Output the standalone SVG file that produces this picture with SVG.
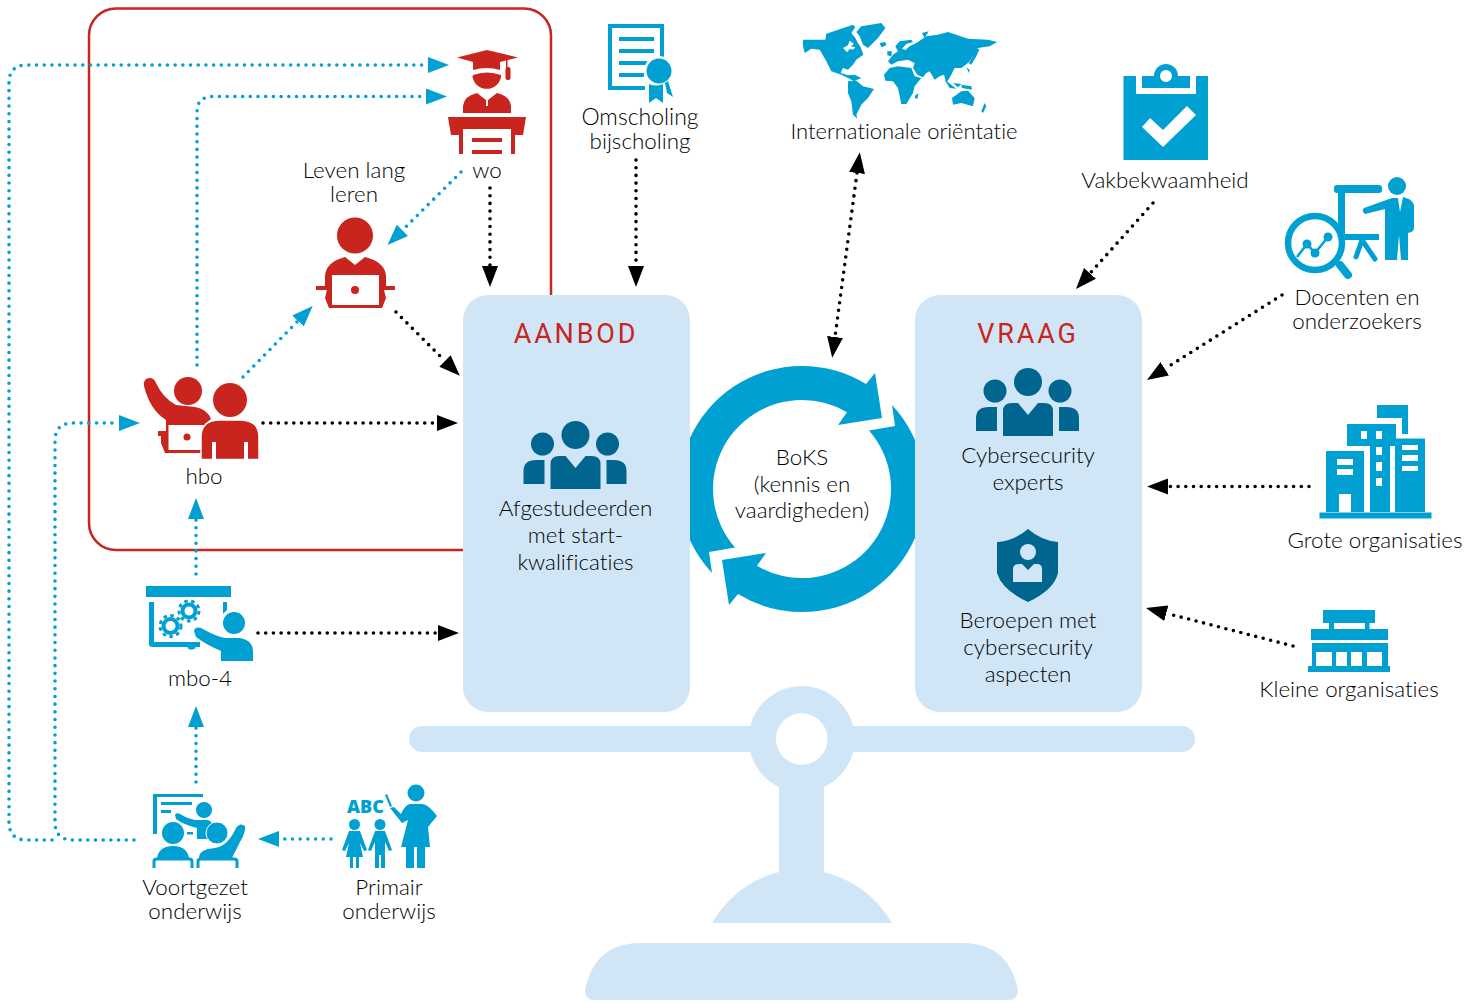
<svg xmlns="http://www.w3.org/2000/svg" width="1471" height="1005" viewBox="0 0 1471 1005">
<style>
.b{fill:#00A0D3}.r{fill:#C9241D}.d{fill:#00658F}.p{fill:#D0E6F7}.w{fill:#fff}
text{font-family:"Lato","Open Sans",sans-serif;font-weight:300;font-size:22.400px;fill:#000;text-anchor:middle;font-variant-ligatures:none}
.h{font-family:"Roboto",sans-serif;font-weight:400;font-size:27px;letter-spacing:2.800px;fill:#C9241D}
.dk{fill:none;stroke:#000;stroke-width:3.600;stroke-linecap:round;stroke-dasharray:0 7.700}
.bl{fill:none;stroke:#00A0D3;stroke-width:3.600;stroke-linecap:round;stroke-dasharray:0 7.700}
.me{marker-end:url(#ab)}.mk{marker-end:url(#ak)}
</style>
<defs>
<marker id="ab" markerUnits="userSpaceOnUse" markerWidth="22" markerHeight="17" refX="0" refY="8" orient="auto-start-reverse"><path d="M0,0L21,8L0,16z" fill="#00A0D3"/></marker>
<marker id="ak" markerUnits="userSpaceOnUse" markerWidth="22" markerHeight="17" refX="0" refY="8" orient="auto-start-reverse"><path d="M0,0L21,8L0,16z" fill="#000"/></marker>
<g id="people">
<circle class="d" cx="1028" cy="382" r="14"/><circle class="d" cx="995" cy="391" r="11.500"/><circle class="d" cx="1060" cy="391" r="11.500"/>
<path class="d" d="M1003,436V411Q1003,403 1012,403H1018L1028,415L1038,403H1044Q1053,403 1053,411V436z"/>
<path class="d" d="M976,431V418Q976,407 989,407H997V431z"/><path class="d" d="M1079,431V418Q1079,407 1066,407H1059V431z"/>
</g>
</defs>
<rect width="1471" height="1005" fill="#fff"/>
<rect id="frame" x="89" y="8.500" width="462" height="541.500" rx="27" fill="none" stroke="#C9241D" stroke-width="2.500"/>

<g id="scale" class="p">
<path fill-rule="evenodd" d="M422,726H750.300A53,53 0 0 1 853.100,726H1182A13,13 0 0 1 1182,752H853.100A53,53 0 0 1 824,787V872Q868,883 892,923H712Q736,883 779,872V787A53,53 0 0 1 750.300,752H422A13,13 0 0 1 422,726zM827.500,739A25.800,25.800 0 1 0 775.900,739A25.800,25.800 0 1 0 827.500,739z"/>
<path d="M640,943H963Q1008,943 1018,990Q1018,1000 1008,1000H595Q585,1000 585,990Q595,943 640,943z"/>
</g>

<g id="boks">
<path class="b" d="M712,573A123,123 0 0 1 802,366A123,123 0 0 1 866,384L875,373L882,418L838,425L847,412.200A89,89 0 0 0 802,400A89,89 0 0 0 735,547.600L709,552z"/>
<path class="b" d="M892,405A123,123 0 0 1 802,612A123,123 0 0 1 738,594L729,605L722,560L766,553L757,565.800A89,89 0 0 0 802,578A89,89 0 0 0 869,430.400L895,426z"/>
<text x="802" y="465">BoKS</text><text x="802" y="492">(kennis en</text><text x="802" y="518">vaardigheden)</text>
</g>

<g id="aanbod">
<rect class="p" x="463" y="295" width="227" height="417" rx="25"/>
<text class="h" x="576" y="343">AANBOD</text>
<use href="#people" x="-452.500" y="53"/>
<text x="575.500" y="516">Afgestudeerden</text><text x="575.500" y="543">met start-</text><text x="575.500" y="570">kwalificaties</text>
</g>

<g id="vraag">
<rect class="p" x="915" y="295" width="227" height="417" rx="25"/>
<text class="h" x="1028" y="343">VRAAG</text>
<use href="#people"/>
<text x="1028" y="463">Cybersecurity</text><text x="1028" y="490">experts</text>
<path class="d" d="M1028,529Q1042,541 1058,542V573Q1054,590 1028,602Q1002,590 997,573V542Q1014,541 1028,529z"/>
<circle class="p" cx="1028" cy="552" r="8"/>
<path class="p" d="M1013,582V569Q1013,564 1019,564H1022L1028,570L1034,564H1037Q1042,564 1042,569V582z"/>
<text x="1028" y="628">Beroepen met</text><text x="1028" y="655">cybersecurity</text><text x="1028" y="682">aspecten</text>
</g>

<g id="connectors">
<path class="bl me" d="M52,840H27Q9,840 9,822V83Q9,65 27,65H428"/>
<path class="bl me" d="M197,365V112Q197,96.500 213,96.500H426"/>
<path class="bl me" d="M134,840H73Q55,840 55,822V441Q55,423 73,423H119"/>
<path class="bl me" d="M461,172L402.400,230.300"/>
<path class="bl me" d="M243,377L298,321"/>
<path class="bl me" d="M196,574V519"/>
<path class="bl me" d="M196,782V727"/>
<path class="bl me" d="M331,839H279"/>
<path class="dk mk" d="M490,188V266"/>
<path class="dk mk" d="M396,312L445,361"/>
<path class="dk mk" d="M263,423H437"/>
<path class="dk mk" d="M258,633H438"/>
<path class="dk mk" d="M636,160V266"/>
<path class="dk" style="marker-start:url(#ak);marker-end:url(#ak)" d="M857,173L835,337"/>
<path class="dk mk" d="M1153,203L1090,273.400"/>
<path class="dk mk" d="M1282,295L1164.800,368.800"/>
<path class="dk mk" d="M1309,486.500H1168"/>
<path class="dk mk" d="M1293,646L1166.300,613.300"/>
</g>

<g id="wo">
<path class="r" d="M457,57.500L487,50L518,57.500L500,62V70Q487,66 473,70V62z"/>
<rect class="r" x="506" y="60" width="1.500" height="8"/><rect class="r" x="505.500" y="67" width="5" height="13" rx="2"/>
<path class="r" d="M473,75Q487,70 501,75V77A14.500,14.500 0 0 1 472.500,77z"/>
<path class="r" d="M463,113V106Q464,96 477,93L486,100V106H488V100L497,93Q510,96 511,106V113z"/>
<path class="r" d="M448,117H526L523,135H515V154H511V129H463V154H459V135H451z"/>
<rect class="r" x="472" y="138" width="30" height="4"/><rect class="r" x="472" y="150" width="30" height="4"/>
<text x="487" y="178">wo</text>
</g>

<g id="lll">
<text x="354" y="178">Leven lang</text><text x="354" y="202">leren</text>
<circle class="r" cx="355" cy="235.500" r="18"/>
<path class="r" d="M325,286V276Q326,262 345,257L355,265L365,257Q385,262 386,276V286H395V290H384L386,298L382,308H329L325,298L327,290H316V286z"/>
<rect class="w" x="332" y="275" width="47" height="30"/>
<circle class="r" cx="355" cy="290" r="4"/>
</g>

<g id="hbo">
<circle class="r" cx="188" cy="391" r="14"/>
<path class="r" d="M144,386Q143,378 150,378Q154,378 156,383Q163,398 176,405L195,407Q207,409 211,419L205,424H166V420Q150,410 144,386z"/>
<path class="r" d="M166,423H205V453H165L161,443V436H158V431H166z"/>
<rect class="w" x="168.500" y="425" width="36" height="25"/>
<circle class="r" cx="187" cy="437" r="3.500"/>
<circle class="r" cx="230" cy="400" r="17"/>
<path class="r" stroke="#fff" stroke-width="1.500" d="M201,459.500V437Q201,420 220,420H240Q259,420 259,437V459.500z"/>
<path class="w" d="M212,442h4v18h-4zM244,442h4v18h-4z"/>
<text x="204" y="484">hbo</text>
</g>

<g id="mbo">
<rect class="b" x="146" y="586" width="85" height="11"/>
<path class="b" d="M149,602H154V642H200V647H152Q149,647 149,644zM223,602H227V610L223,614z"/>
<path d="M188,647A5.500,5.500 0 0 0 195,647" fill="none" stroke="#00A0D3" stroke-width="2.500"/>
<g fill="none" stroke="#00A0D3"><circle cx="189" cy="611" r="6.500" stroke-width="4"/><circle cx="189" cy="611" r="10" stroke-width="3" stroke-dasharray="3.500 3.500"/><circle cx="170.500" cy="626" r="7" stroke-width="4"/><circle cx="170.500" cy="626" r="10.500" stroke-width="3" stroke-dasharray="3.500 3.500"/></g>
<circle class="b" cx="234" cy="623" r="11"/>
<path class="b" d="M194,631Q195,626 201,628Q215,636 225,638H240Q253,640 253,652V661H221V651Q205,644 196,637z"/>
<text x="200" y="686">mbo-4</text>
</g>

<g id="vo">
<path class="b" d="M153,794H203V797H157V834H153z"/>
<rect class="b" x="161" y="802" width="31" height="3"/><rect class="b" x="161" y="810" width="10" height="3"/><rect class="b" x="187" y="832" width="6" height="2.500"/>
<circle class="b" cx="204" cy="810" r="8"/>
<path class="b" d="M175,815Q176,812 180,814Q190,820 198,820H208Q214,822 213,830L210,839H197V828Q184,825 176,819z"/>
<circle class="b" cx="173" cy="833" r="11"/><circle class="b" cx="217" cy="833" r="11" stroke="#fff" stroke-width="1"/>
<path class="b" d="M157,858Q159,846 173,846Q187,846 189,858z"/>
<path class="b" d="M199,858Q199,849 215,848Q228,846 236,828Q240,822 245,826Q246,832 240,842L232,858z"/>
<path d="M154,868V861Q154,859 157,859H189Q192,859 192,861V868M198,868V861Q198,859 201,859H234Q237,859 237,861V868" fill="none" stroke="#00A0D3" stroke-width="3"/>
<text x="195" y="895">Voortgezet</text><text x="195" y="919">onderwijs</text>
</g>

<g id="po">
<text x="365.500" y="813" style="font-family:'Open Sans',sans-serif;font-weight:800;font-size:18px;fill:#00A0D3">ABC</text>
<circle class="b" cx="354.500" cy="824.500" r="5.500"/><circle class="b" cx="380" cy="824.500" r="5.500"/>
<path class="b" d="M349,831H360L367,850L364,851L360,843L363,857H359V868H356V857H353V868H350V857H346L349,843L345,851L342,850z"/>
<path class="b" d="M375,831H385L392,850L389,851L385,842V868H381V855H379V868H375V842L371,851L368,850z"/>
<circle class="b" cx="416" cy="793" r="8.500"/>
<path class="b" d="M385,795L387,794L392,806L390,807zM390,808L394,807L401,814Q405,805 410,804H422Q428,804 437,816L428,827L430,847H401L408,820L402,823z"/>
<path class="b" d="M406,847H414V868H406zM417,847H425V868H417z"/>
<text x="389" y="895">Primair</text><text x="389" y="919">onderwijs</text>
</g>

<g id="omscholing">
<path class="b" d="M608,24H664V60H660V28H612V86H645V90H608z"/>
<rect class="b" x="619" y="37" width="35" height="4"/><rect class="b" x="619" y="49" width="35" height="4"/><rect class="b" x="619" y="61" width="28" height="4"/><rect class="b" x="619" y="73" width="25" height="4"/>
<circle class="w" cx="659" cy="71" r="15"/><circle class="b" cx="659" cy="71" r="12.500"/>
<path class="b" d="M649,84Q656,87 663,84V103L656,98L649,103zM665,83L668,81L673,97L667,93z"/>
<text x="640" y="125" style="font-size:23px">Omscholing</text><text x="640" y="149">bijscholing</text>
</g>

<g id="international">
<g class="b" transform="translate(798,18) scale(.3333)">
<path fill-rule="evenodd" d="M15,65L82,65L85,47L165,20L172,28L160,45L172,60L178,72L188,88L196,110L175,125L165,140L150,155L135,150L128,165L150,172L170,170L190,180L168,190L150,180L130,170L100,160L85,130L65,95L40,92L20,105L15,85zM135,90L150,82L155,68L168,78L158,85L172,88L165,95L155,92L148,103z"/>
<path d="M175,42L190,25L250,15L262,30L240,60L225,75L210,90L195,80L185,55z"/>
<path d="M245,75L262,72L265,82L250,88z"/>
<path d="M150,190L175,188L195,205L228,213L210,240L190,260L175,290L178,302L165,290L160,250L150,225z"/>
<path d="M270,130L285,110L300,100L292,85L305,70L340,65L345,72L325,78L312,92L322,96L335,85L355,75L385,55L420,50L450,42L510,62L570,65L598,72L575,85L540,90L530,110L510,135L490,150L470,150L460,170L445,195L438,170L425,175L410,185L395,160L385,165L375,178L358,170L345,150L350,135L330,125L300,130L280,140z"/>
<path d="M268,100L282,100L280,115L268,112z"/>
<path d="M258,170L275,150L300,145L340,150L350,175L370,180L350,205L345,225L325,258L310,258L300,210L285,190L262,188z"/>
<path d="M352,232L362,226L358,242L350,240zM505,148L515,155L513,165zM528,95L545,92L535,115L520,140L512,135L526,115zM440,185L460,200L475,212L455,210zM490,200L520,205L522,215L492,210zM465,195L490,198L480,208zM372,45L392,40L380,60zM462,240L490,220L510,218L530,240L525,265L490,255L465,260zM550,280L560,255L565,265L555,285z"/>
</g>
<text x="904" y="139" style="font-size:22px">Internationale oriëntatie</text>
</g>

<g id="vak">
<path class="b" fill-rule="evenodd" d="M1123.500,76H1136V94H1196V76H1208V160H1123.500zM1142,76H1154A12,12 0 0 1 1178,76H1190V88H1142zM1160,76A6,6 0 1 0 1172,76A6,6 0 1 0 1160,76z"/>
<path class="w" d="M1142,127L1150,118L1163,130L1187,106L1196,115L1163,147z"/>
<text x="1165" y="188">Vakbekwaamheid</text>
</g>

<g id="docenten">
<rect class="b" x="1334" y="185" width="48" height="8" rx="3"/>
<rect class="b" x="1338" y="190" width="7" height="50"/><rect class="b" x="1340" y="234" width="39" height="6"/>
<path d="M1362,240L1356,257M1362,240L1375,259" fill="none" stroke="#00A0D3" stroke-width="5" stroke-linecap="round"/>
<circle class="w" cx="1315" cy="243" r="30"/>
<circle cx="1315" cy="243" r="27" fill="#fff" stroke="#00A0D3" stroke-width="6.500"/>
<path d="M1340,265L1348,275" fill="none" stroke="#00A0D3" stroke-width="8" stroke-linecap="round"/>
<path d="M1297,257L1307,244L1315,253L1328,237" fill="none" stroke="#00A0D3" stroke-width="2.500"/>
<circle class="b" cx="1307" cy="244" r="4.500"/><circle class="b" cx="1315" cy="253" r="4.500"/><circle class="b" cx="1328" cy="237" r="4.500"/>
<circle class="b" cx="1397" cy="186" r="9"/>
<path class="b" d="M1364,208L1392,198H1398L1400,212L1403,197L1409,199Q1414,202 1414,207V228Q1414,232 1408,233L1408,260H1401L1399,235L1397,260H1385V209L1365,214Q1361,211 1364,208z"/>
<text x="1357" y="305">Docenten en</text><text x="1357" y="329">onderzoekers</text>
</g>

<g id="grote">
<rect class="b" x="1319.500" y="512.500" width="112" height="6"/>
<path class="b" fill-rule="evenodd" d="M1326,451H1364V512H1351V494H1339V512H1326zM1337,459V465H1353V459zM1337,469V475H1353V469z"/>
<path class="b" fill-rule="evenodd" d="M1347,424H1396V446H1390V512H1370V446H1347zM1361,431V439H1367V431zM1376,431V439H1382V431zM1376,447V455H1382V447zM1376,462V471H1382V462zM1376,478V486H1382V478z"/>
<path class="b" fill-rule="evenodd" d="M1395,438.500H1425V512H1395zM1402,445V450H1418V445zM1402,455V461H1418V455zM1402,466V471H1418V466z"/>
<path class="b" d="M1377,405H1408V434H1402V418H1377z"/>
<text x="1375" y="548">Grote organisaties</text>
</g>

<g id="kleine">
<rect class="b" x="1323" y="610" width="52" height="13"/>
<path class="b" d="M1329,623h5v6h-5zM1365,623h4.500v6h-4.500z"/>
<rect class="b" x="1311" y="629" width="77" height="11"/>
<path class="b" fill-rule="evenodd" d="M1312,643H1388V666H1312zM1316,652V666H1332V652zM1336,652V666H1347V652zM1351,652V666H1362V652zM1367,652V666H1382V652z"/>
<rect class="b" x="1308" y="666" width="82" height="6"/>
<text x="1349" y="697">Kleine organisaties</text>
</g>
</svg>
